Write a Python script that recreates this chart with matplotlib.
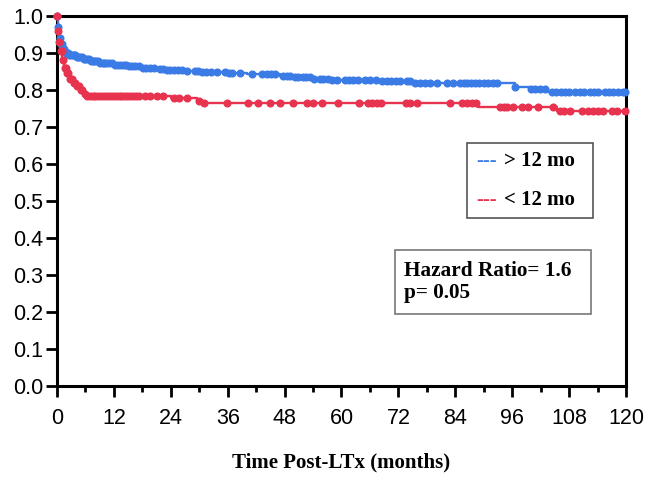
import numpy as np
import matplotlib
matplotlib.use("Agg")
import matplotlib.pyplot as plt
from matplotlib.patches import Rectangle
from matplotlib.ticker import MultipleLocator

# ---- data ----
blue_t = [0, 0.2, 0.5, 0.8, 1.2, 1.8, 2.5, 4, 5.5, 7, 9, 12, 15, 18, 21, 23, 27, 30, 36,
          40, 47, 50, 54, 58, 68, 75, 85, 96.6, 99.7, 103.6]
blue_s = [1.0, 0.97, 0.94, 0.925, 0.91, 0.90, 0.895, 0.89, 0.885, 0.878, 0.873, 0.868, 0.864,
          0.860, 0.857, 0.854, 0.851, 0.849, 0.845, 0.842, 0.837, 0.834, 0.830, 0.827, 0.823,
          0.820, 0.818, 0.807, 0.803, 0.794]
blue_cens = [0.1, 0.3, 0.6, 0.9, 1.1, 1.5, 1.8, 2.1, 2.4, 2.6, 3.0, 3.3, 3.5, 3.9, 4.2, 4.5,
             4.8, 5.3, 5.7, 6.0, 6.4, 6.8, 7.2, 7.5, 7.8, 8.3, 8.7, 9.1, 9.6, 10.0, 10.4,
             11.0, 11.5, 12.2, 12.8, 13.5, 14.1, 14.6, 15.2, 15.8, 16.5, 17.3, 18.1, 18.7,
             19.6, 20.4, 21.7, 22.3, 23.1, 23.8, 24.6, 25.5, 26.3, 27.4, 29.0, 29.8, 30.6,
             31.5, 32.4, 33.7, 35.4, 36.2, 37.0, 38.6, 41.1, 43.2, 44.3, 45.1, 46.0, 47.7,
             48.5, 49.2, 50.1, 50.9, 51.8, 52.6, 53.4, 54.3, 55.5, 56.2, 57.1, 58.0, 59.0,
             60.7, 61.6, 62.5, 63.4, 65.0, 66.0, 67.2, 68.5, 69.6, 70.5, 71.4, 72.3, 73.8,
             74.4, 75.6, 76.5, 77.6, 78.7, 80.1, 82.2, 83.5, 85.0, 85.8, 86.5, 87.3, 88.2,
             89.0, 90.0, 91.0, 92.0, 92.8, 96.6, 100.0, 100.9, 101.8, 102.9, 104.4, 105.3,
             106.2, 107.1, 108.0, 109.3, 110.2, 111.1, 112.4, 113.3, 114.2, 115.5, 116.4,
             117.3, 118.4, 119.3, 119.8]

red_t = [0, 0.1, 0.4, 0.7, 1.1, 1.5, 2.0, 2.5, 3.3, 4.0, 4.7, 5.5, 6.3, 24, 29.5, 31,
         88.8, 105.4]
red_s = [1.0, 0.96, 0.93, 0.905, 0.88, 0.86, 0.845, 0.83, 0.82, 0.81, 0.80, 0.79, 0.783,
         0.778, 0.771, 0.766, 0.755, 0.744]
red_cens = [0.05, 0.3, 0.5, 0.8, 1.0, 1.3, 1.6, 1.8, 2.2, 2.4, 2.8, 3.1, 3.6, 3.9, 4.3,
            4.6, 5.0, 5.3, 5.8, 6.3, 7.0, 7.5, 8.1, 8.6, 9.3, 10.0, 10.6, 11.2, 11.9, 12.5,
            13.1, 13.6, 14.2, 14.8, 15.4, 16.0, 16.7, 17.3, 18.5, 19.7, 21.0, 22.4, 24.6,
            25.8, 27.4, 30.0, 31.0, 35.8, 40.3, 42.4, 45.0, 47.0, 49.8, 52.7, 54.0, 55.9,
            59.3, 63.7, 65.6, 66.5, 67.4, 68.3, 73.6, 74.4, 76.0, 82.9, 85.4, 86.5, 87.5,
            88.4, 93.4, 94.3, 95.0, 96.2, 98.0, 99.3, 101.4, 104.6, 106.0, 106.9, 108.2,
            110.7, 112.0, 113.0, 114.1, 115.1, 117.0, 118.0, 119.8]

xticks = [0, 12, 24, 36, 48, 60, 72, 84, 96, 108, 120]
yticks = [0.0, 0.1, 0.2, 0.3, 0.4, 0.5, 0.6, 0.7, 0.8, 0.9, 1.0]
legend_labels = ["> 12 mo", "< 12 mo"]
stats_text = "Hazard Ratio= 1.6\np= 0.05"
xlabel = "Time Post-LTx (months)"

BLUE = "#3b7be6"
RED = "#e8334f"

fig = plt.figure(figsize=(6.51, 4.80), dpi=100)
ax = fig.add_axes([57/651, 94/480, 569/651, 370/480])


def surv_at(tt, ss, x):
    idx = np.searchsorted(np.array(tt), np.array(x), side="right") - 1
    return np.array(ss)[idx]


for tt, ss, cens, col in [(blue_t, blue_s, blue_cens, BLUE), (red_t, red_s, red_cens, RED)]:
    tx = list(tt) + [120]
    sx = list(ss) + [ss[-1]]
    ax.step(tx, sx, where="post", color=col, lw=1.7, zorder=3)
    ax.plot(cens, surv_at(tt, ss, cens), "o", color=col, ms=4.8, mec=col, zorder=4,
            clip_on=False)

ax.set_xlim(0, 120)
ax.set_ylim(0, 1.0)
ax.set_xticks(xticks)
ax.set_yticks(yticks)
ax.set_yticklabels([f"{v:.1f}" for v in yticks])
ax.xaxis.set_minor_locator(MultipleLocator(6))
for sp in ax.spines.values():
    sp.set_linewidth(2.2)
    sp.set_color("black")
ax.tick_params(axis="both", which="major", direction="out", length=8, width=2,
               labelsize=15.5, colors="black")
ax.tick_params(axis="x", which="minor", direction="out", length=4, width=2)
for lab in ax.get_xticklabels() + ax.get_yticklabels():
    lab.set_fontfamily("Liberation Sans")
ax.tick_params(axis="x", pad=8)
ax.tick_params(axis="y", pad=2)

fig.text(341/651, 1 - 462/480, xlabel, ha="center", va="center",
         fontfamily="Liberation Serif", fontweight="bold", fontsize=15)

# legend box
fig.patches.append(Rectangle((467/651, 1 - 218/480), 126/651, 75/480,
                             transform=fig.transFigure, fill=False, ec="#555555",
                             lw=1.2))
for i, (lab, col) in enumerate(zip(legend_labels, [BLUE, RED])):
    y = 1 - (161 + i * 39) / 480
    fig.text(476/651, y, "---", color=col, ha="left", va="center",
             fontfamily="Liberation Serif", fontweight="bold", fontsize=15)
    fig.text(504/651, y, lab, color="black", ha="left", va="center",
             fontfamily="Liberation Serif", fontweight="bold", fontsize=15)

# stats box
fig.patches.append(Rectangle((395/651, 1 - 314/480), 196/651, 64/480,
                             transform=fig.transFigure, fill=False, ec="#777777",
                             lw=1.2))
fig.text(404/651, 1 - 282/480, stats_text, ha="left", va="center",
         fontfamily="Liberation Serif", fontweight="bold", fontsize=15.3,
         linespacing=1.15)

fig.savefig("out.png", dpi=100)
